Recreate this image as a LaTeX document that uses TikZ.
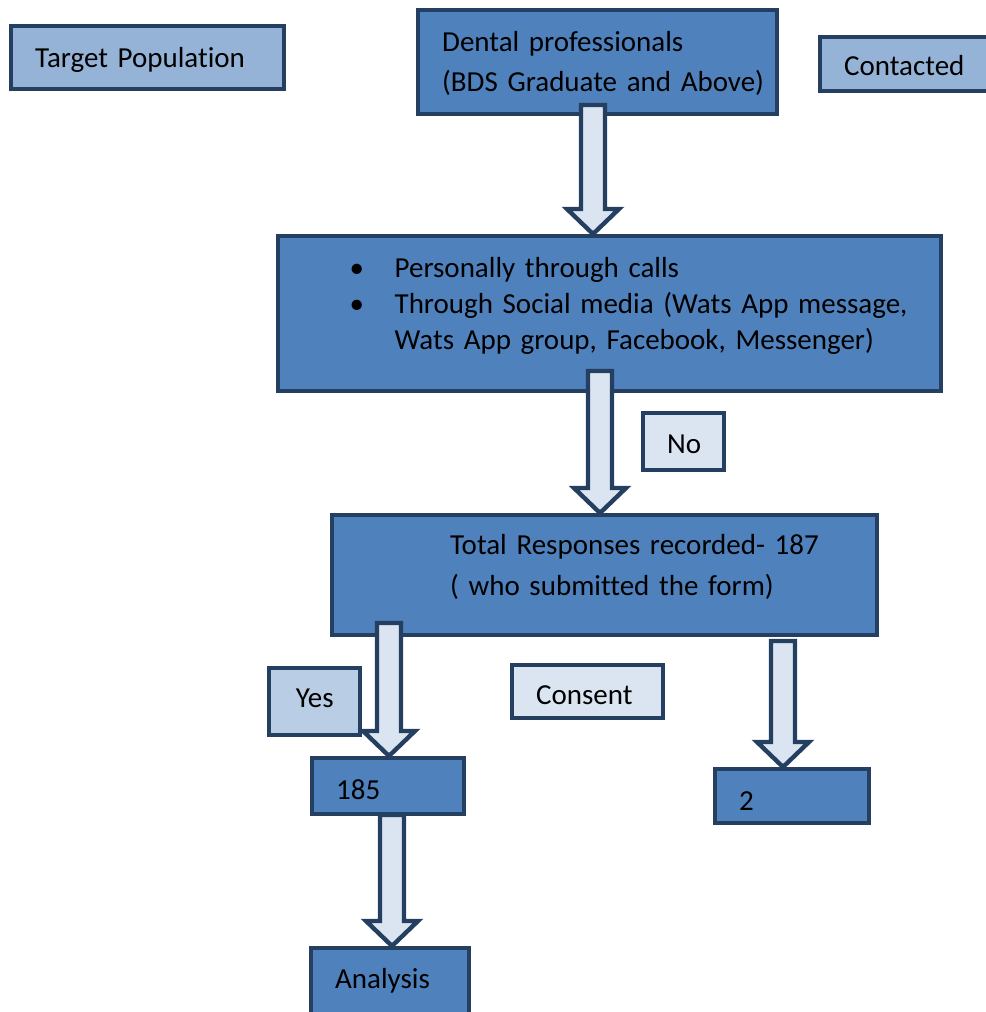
\documentclass[tikz,border=0pt]{standalone}
\usepackage{fontspec}
\setmainfont{Carlito}[Ligatures=NoCommon]
\usepackage{tikz}
\usetikzlibrary{calc}
\definecolor{bdr}{HTML}{243F60}
\definecolor{mainfill}{HTML}{4F81BD}
\definecolor{lightfill}{HTML}{95B3D7}
\definecolor{yesfill}{HTML}{B9CDE5}
\definecolor{palefill}{HTML}{DBE5F1}
\newcommand{\blockarrow}[2]{%
  \coordinate (#1tip) at (#1 |- #2.north);
  \draw[barrow] ($(#1)+(-12,0)$) -- ($(#1tip)+(-12,-25)$) -- ($(#1tip)+(-26,-25)$)
    -- (#1tip) -- ($(#1tip)+(26,-25)$) -- ($(#1tip)+(12,-25)$) -- ($(#1)+(12,0)$) -- cycle;
}

\begin{document}
\begin{tikzpicture}[x=0.02cm,y=-0.02cm,
  flow/.style={draw=bdr,line width=2.5pt,anchor=north west,align=left,
    inner xsep=0.48cm,inner ysep=0pt,font=\fontsize{16.5}{22.7}\selectfont},
  barrow/.style={draw=bdr,fill=palefill,line width=2.5pt}]
  \useasboundingbox (0,0) rectangle (986,1012);
  % top row
  \node[flow,fill=lightfill,text width=4.5cm,text height=0.82cm,text depth=0.436cm] (target) at (9,24)
    {Target Population};
  \node[flow,fill=mainfill,text width=6.22cm,text height=0.836cm,text depth=1.236cm] (dental) at (416,8)
    {\mbox{Dental professionals}\\\mbox{(BDS Graduate and Above)}};
  \node[flow,fill=lightfill,text width=2.64cm,text height=0.776cm,text depth=0.296cm] (contacted) at (818,35)
    {Contacted};
  % contact channels
  \node[flow,fill=mainfill,text width=12.3cm,text height=0.836cm,text depth=2.256cm,
    font=\fontsize{16.5}{20.4}\selectfont] (channels) at (276,234)
    {\hspace*{0.95cm}\makebox[0.9cm][l]{\textbullet}Personally through calls\\
     \hspace*{0.95cm}\makebox[0.9cm][l]{\textbullet}Through Social media (Wats App message,\\
     \hspace*{1.85cm}Wats App group, Facebook, Messenger)};
  \node[flow,fill=palefill,align=center,text width=0.66cm,text height=0.816cm,text depth=0.316cm] (no) at (641,411)
    {No};
  % responses
  \node[flow,fill=mainfill,text width=9.94cm,text height=0.796cm,text depth=1.596cm,
    font=\fontsize{16.5}{23.2}\selectfont] (resp) at (330,513)
    {\hspace*{1.88cm}Total Responses recorded- 187\\\hspace*{1.88cm}( who submitted the form)};
  \node[flow,fill=yesfill,align=center,text width=0.86cm,text height=0.796cm,text depth=0.536cm] (yes) at (267,666)
    {Yes};
  \node[flow,fill=palefill,text width=2.06cm,text height=0.796cm,text depth=0.256cm] (consent) at (510,663)
    {Consent};
  \node[flow,fill=mainfill,text width=2.08cm,text height=0.836cm,text depth=0.276cm] (n185) at (310,756)
    {185};
  \node[flow,fill=mainfill,text width=2.12cm,text height=0.816cm,text depth=0.256cm] (n2) at (713,767)
    {2};
  \node[flow,fill=mainfill,text width=2.2cm,text height=0.796cm,text depth=0.84cm] (analysis) at (309,946)
    {Analysis};
  % block arrows
  \coordinate (a1) at (593,105);
  \coordinate (a2) at (600,371);
  \coordinate (a3) at (389,623);
  \coordinate (a4) at (392,815);
  \coordinate (a5) at (783,641);
  \foreach \s/\t in {a1/channels,a2/resp,a3/n185,a4/analysis,a5/n2}
    \blockarrow{\s}{\t};
\end{tikzpicture}
\end{document}
